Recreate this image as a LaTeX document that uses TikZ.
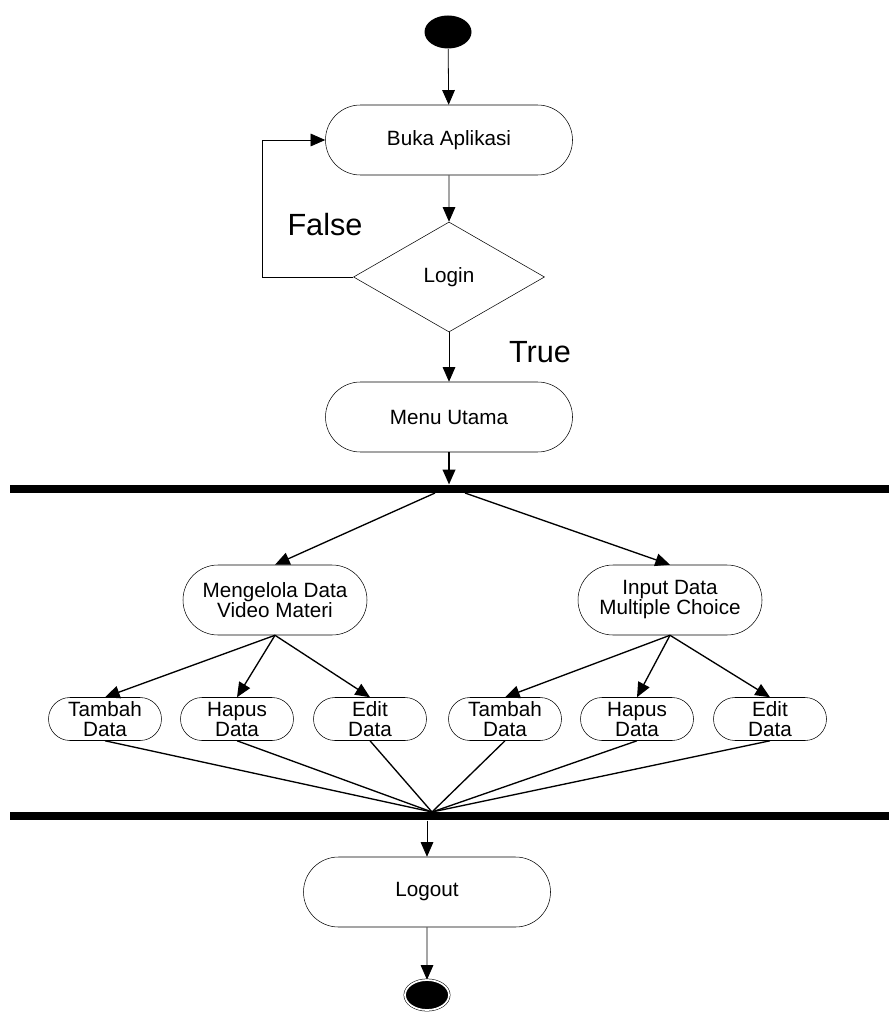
\documentclass[tikz,border=0pt]{standalone}
\usepackage{fontspec}
\setmainfont{Liberation Sans}
\usepackage{tikz}
\usetikzlibrary{shapes.geometric,shapes.misc,arrows.meta}

\begin{document}
\begin{tikzpicture}[x=0.75pt,y=0.75pt,yscale=-1,xscale=1,
  activity/.style={draw,rounded rectangle,minimum width=185.25pt,minimum height=52.5pt,inner sep=0pt,font=\fontsize{15.5}{15}\selectfont,align=center},
  midact/.style={activity,minimum width=138pt},
  smallact/.style={activity,minimum width=84.75pt,minimum height=32.25pt},
  forkbar/.style={fill=black,inner sep=0pt,minimum width=659.25pt,minimum height=6.5pt},
  flow/.style={line width=0.6pt,-{Triangle[length=11pt,width=9.5pt]}},
  thick flow/.style={line width=1pt,-{Triangle[length=11pt,width=9.5pt]}},
  joinline/.style={line width=1pt}]
\useasboundingbox (0,0) rectangle (889,1012);
        % start / login part
        \node (start) [ellipse,fill=black,minimum width=35.25pt,minimum height=24.75pt,inner sep=0pt] at (448,32) {};
        \node (buka) [activity] at (449,140) {Buka Aplikasi};
        \node (login) [draw,diamond,minimum width=143.25pt,minimum height=82.5pt,inner sep=0pt,font=\fontsize{15.5}{15}\selectfont] at (449,277) {Login};
        \node (menu) [activity] at (449,417) {Menu Utama};
        \node (false) at (325,225) {\fontsize{23}{23}\selectfont False};
        \node (true) at (540,352) {\fontsize{23}{23}\selectfont True};
        \draw [flow] (start) -- (buka);
        \draw [flow] (buka) -- (login);
        \draw [flow] (login.west) -- ++(-91,0) |- (buka.west);
        \draw [flow] (login.south) -- (menu.north);
        % fork
        \node (fork1) [forkbar] at (449.5,489) {};
        \draw [thick flow] (menu.south) -- (menu.south |- fork1.north);
        \coordinate (f1l) at (435,493);
        \coordinate (f1r) at (465,493);
        \node (video) [midact] at (275,600) {Mengelola Data\\Video Materi};
        \node (mc) [midact] at (670,600) {Input Data\\Multiple Choice};
        \draw [thick flow] (f1l) -- (video.north);
        \draw [thick flow] (f1r) -- (mc.north);
        % sub activities
        \node (tambahA) [smallact] at (105,719) {Tambah\\Data};
        \node (hapusA) [smallact] at (237,719) {Hapus\\Data};
        \node (editA) [smallact] at (370,719) {Edit\\Data};
        \node (tambahB) [smallact] at (505,719) {Tambah\\Data};
        \node (hapusB) [smallact] at (637,719) {Hapus\\Data};
        \node (editB) [smallact] at (770,719) {Edit\\Data};
        \foreach \n in {tambahA,hapusA,editA}
          \draw [thick flow] (video.south) -- (\n.north);
        \foreach \n in {tambahB,hapusB,editB}
          \draw [thick flow] (mc.south) -- (\n.north);
        % join
        \node (fork2) [forkbar] at (449.5,816) {};
        \coordinate (j) at (432,812);
        \foreach \n in {tambahA,hapusA,editA,tambahB,hapusB,editB}
          \draw [joinline] (\n.south) -- (j);
        \node (logout) [activity] at (427,892) {Logout};
        \draw [flow] (fork2.south -| logout) -- (logout.north);
        \node (stop) [ellipse,draw,fill=black,double,double distance=1.3pt,minimum width=33pt,minimum height=22.5pt,inner sep=0pt] at (427,995) {};
        \draw [flow] (logout) -- (stop);
\end{tikzpicture}
\end{document}
